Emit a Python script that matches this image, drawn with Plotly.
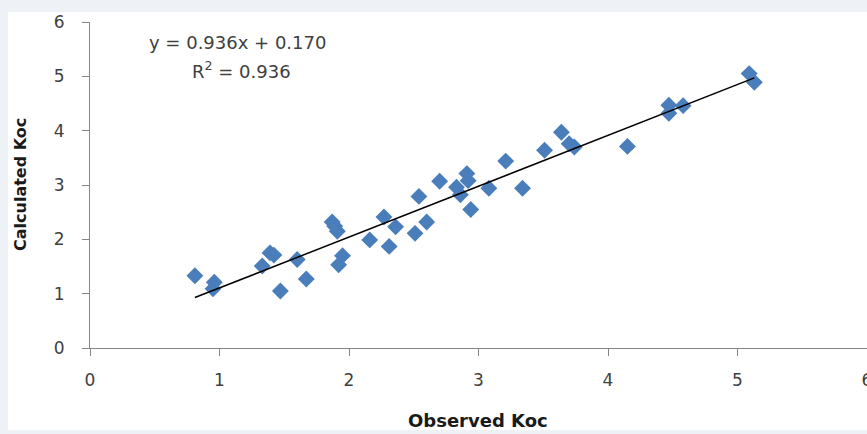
import plotly.graph_objects as go

observed_koc = [0.81, 0.96, 0.95, 1.33, 1.39, 1.42, 1.47, 1.60, 1.67, 1.87,
                1.89, 1.91, 1.95, 1.92, 2.16, 2.27, 2.31, 2.36, 2.51, 2.60,
                2.54, 2.70, 2.83, 2.86, 2.91, 2.92, 2.94, 3.08, 3.21, 3.34,
                3.51, 3.64, 3.70, 3.74, 4.15, 4.47, 4.47, 4.58, 5.09, 5.13]
calculated_koc = [1.33, 1.21, 1.09, 1.51, 1.75, 1.71, 1.05, 1.63, 1.27, 2.32,
                  2.24, 2.15, 1.70, 1.53, 1.99, 2.41, 1.87, 2.23, 2.11, 2.32,
                  2.79, 3.07, 2.96, 2.82, 3.21, 3.08, 2.55, 2.94, 3.44, 2.94,
                  3.64, 3.97, 3.76, 3.70, 3.71, 4.47, 4.32, 4.46, 5.05, 4.89]
slope = 0.936
intercept = 0.170
r_squared = 0.936
axis_ticks = [0, 1, 2, 3, 4, 5, 6]
x_title = "Observed Koc"
y_title = "Calculated Koc"

x_min, x_max = min(observed_koc), max(observed_koc)
trend_x = [x_min, x_max]
trend_y = [slope * v + intercept for v in trend_x]

font_family = "DejaVu Sans, sans-serif"
grey = "#868686"
text_col = "#404040"

L, R, T, B = 90, 0, 22, 86
W, H = 867, 434
pw, ph = W - L - R, H - T - B


def px(xp):
    return (xp - L) / pw


def py(yp):
    return 1 - (yp - T) / ph


fig = go.Figure()
fig.add_trace(go.Scatter(
    x=observed_koc, y=calculated_koc, mode="markers",
    marker=dict(symbol="diamond", size=13, color="#4a7ebb"),
    showlegend=False, hoverinfo="x+y"))
fig.add_trace(go.Scatter(
    x=trend_x, y=trend_y, mode="lines",
    line=dict(color="black", width=1.5),
    showlegend=False, hoverinfo="skip"))

axis_common = dict(
    range=[0, 6], tickvals=axis_ticks, showgrid=False, zeroline=False,
    showline=True, linecolor=grey, linewidth=1,
    ticks="outside", ticklen=7, tickcolor=grey, tickwidth=1,
    tickfont=dict(family=font_family, size=17, color=text_col),
    automargin=False, ticklabeloverflow="allow",
)

fig.update_layout(
    width=W, height=H,
    margin=dict(l=L, r=R, t=T, b=B, autoexpand=False),
    paper_bgcolor="#eef1f5",
    plot_bgcolor="white",
    font=dict(family=font_family, color=text_col),
    xaxis=dict(**axis_common, ticklabelstandoff=10),
    yaxis=dict(**axis_common, ticklabelstandoff=14),
    shapes=[dict(type="rect", xref="paper", yref="paper", layer="below",
                 x0=px(8), x1=1.0, y0=py(430), y1=py(12),
                 fillcolor="white", line=dict(width=0))],
    annotations=[
        dict(text=f"y = {slope:.3f}x + {intercept:.3f}", x=px(147), y=py(43),
             xref="paper", yref="paper", showarrow=False,
             xanchor="left", yanchor="middle",
             font=dict(family=font_family, size=18, color=text_col)),
        dict(text=f"R<sup>2</sup> = {r_squared:.3f}", x=px(190), y=py(70),
             xref="paper", yref="paper", showarrow=False,
             xanchor="left", yanchor="middle",
             font=dict(family=font_family, size=18, color=text_col)),
        dict(text=f"<b>{x_title}</b>", x=px(478), y=py(420),
             xref="paper", yref="paper", showarrow=False,
             xanchor="center", yanchor="middle",
             font=dict(family=font_family, size=18, color="#1a1a1a")),
        dict(text=f"<b>{y_title}</b>", x=px(20), y=py(185), textangle=-90,
             xref="paper", yref="paper", showarrow=False,
             xanchor="center", yanchor="middle",
             font=dict(family=font_family, size=16, color="#1a1a1a")),
    ],
)

fig.write_html("out.html", config={"displayModeBar": False},
               post_script="document.body.style.margin='0px';document.body.style.overflow='hidden';")
